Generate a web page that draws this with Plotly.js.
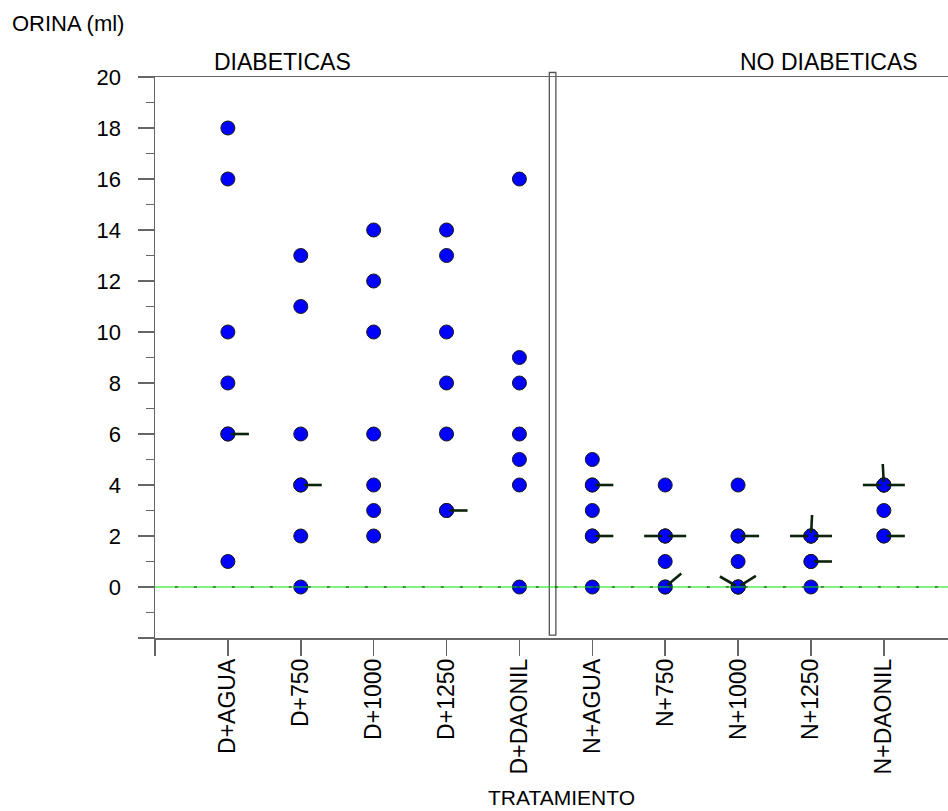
<!DOCTYPE html>
<html>
<head>
<meta charset="utf-8">
<script src="https://cdn.plot.ly/plotly-3.0.1.min.js"></script>
<style>
  html, body { margin: 0; padding: 0; background: #ffffff; }
  #chart { width: 948px; height: 811px; }
</style>
</head>
<body>
<div id="chart"></div>
<script>
// Treatment groups, in axis order
const categories = ['D+AGUA', 'D+750', 'D+1000', 'D+1250', 'D+DAONIL',
                    'N+AGUA', 'N+750', 'N+1000', 'N+1250', 'N+DAONIL'];

// Urine volume (ml) per animal, one array per group
const dAgua    = [18, 16, 10, 8, 6, 6, 1];
const d750     = [13, 11, 6, 4, 4, 2, 0];
const d1000    = [14, 12, 10, 6, 4, 3, 2];
const d1250    = [14, 13, 10, 8, 6, 3, 3];
const dDaonil  = [16, 9, 8, 6, 5, 4, 0];
const nAgua    = [5, 4, 4, 3, 2, 2, 0];
const n750     = [4, 2, 2, 2, 1, 0, 0];
const n1000    = [4, 2, 2, 1, 0, 0, 0];
const n1250    = [2, 2, 2, 2, 1, 1, 0];
const nDaonil  = [4, 4, 4, 4, 3, 2, 2];

const groups = [dAgua, d750, d1000, d1250, dDaonil, nAgua, n750, n1000, n1250, nDaonil];

// Y ticks
const yTickVals = [-2, 0, 2, 4, 6, 8, 10, 12, 14, 16, 18, 20];
const yTickText = ['', '0', '2', '4', '6', '8', '10', '12', '14', '16', '18', '20'];
const yMinorVals = [-1, 1, 3, 5, 7, 9, 11, 13, 15, 17, 19];

// Sunflower petals: one petal per repeated observation.
// Default petal directions (degrees) by number of extra observations,
// with a few groups turned so they stay clear of the baseline.
const petalDefaults = { 1: [0], 2: [180, 0], 3: [180, 0, 90] };
const petalTurns = {
  'N+750|0': [40],
  'N+1000|0': [150, 32],
  'N+1250|2': [180, 0, 87],
  'N+DAONIL|4': [180, 0, 93]
};
const PETAL_R0 = 3, PETAL_R1 = 21;

// Scatter points
const xs = [], ys = [];
groups.forEach((vals, i) => {
  vals.forEach(v => { xs.push(i + 1); ys.push(v); });
});

const shapes = [];

// Separator between diabetic and non-diabetic groups
shapes.push({
  type: 'rect', xref: 'x', yref: 'paper',
  x0: 5.41, x1: 5.5, y0: 0.005, y1: 1.008,
  line: { color: '#555555', width: 1.3 },
  fillcolor: '#ffffff', layer: 'below'
});

// Baseline at zero: green line with short dark dashes
shapes.push({
  type: 'line', xref: 'paper', yref: 'y', x0: 0, x1: 1, y0: 0, y1: 0,
  line: { color: '#00e600', width: 1.2 }, layer: 'above'
});
shapes.push({
  type: 'line', xref: 'paper', yref: 'y', x0: 0.025, x1: 1, y0: 0, y1: 0,
  line: { color: '#222222', width: 1.2, dash: '3px,16px' }, layer: 'above'
});

// Petal lines, anchored on the repeated values
groups.forEach((vals, i) => {
  const counts = {};
  vals.forEach(v => { counts[v] = (counts[v] || 0) + 1; });
  Object.keys(counts).forEach(k => {
    const extra = counts[k] - 1;
    if (extra < 1) return;
    const key = categories[i] + '|' + k;
    const angles = petalTurns[key] || petalDefaults[extra];
    angles.forEach(a => {
      const r = a * Math.PI / 180;
      shapes.push({
        type: 'line', xref: 'x', yref: 'y',
        xsizemode: 'pixel', ysizemode: 'pixel',
        xanchor: i + 1, yanchor: Number(k),
        x0: PETAL_R0 * Math.cos(r), x1: PETAL_R1 * Math.cos(r),
        y0: PETAL_R0 * Math.sin(r), y1: PETAL_R1 * Math.sin(r),
        line: { color: '#0b220b', width: 2.6 }, layer: 'above'
      });
    });
  });
});

const FONT = 'Liberation Sans, Arial, Helvetica, sans-serif';
const AXIS = '#666666';

const trace = {
  type: 'scatter', mode: 'markers',
  x: xs, y: ys,
  marker: { color: '#0000ff', size: 14, line: { color: '#1a1a1a', width: 1 } },
  hoverinfo: 'x+y', showlegend: false
};

const layout = {
  width: 948, height: 811,
  margin: { l: 155, r: 0, t: 77, b: 173, pad: 0 },
  paper_bgcolor: '#ffffff', plot_bgcolor: '#ffffff',
  font: { family: FONT, color: '#000000' },
  showlegend: false,
  xaxis: {
    range: [0, 10.88],
    tickmode: 'array',
    tickvals: [0, 1, 2, 3, 4, 5, 6, 7, 8, 9, 10],
    ticktext: [''].concat(categories),
    tickangle: -90,
    ticks: 'outside', ticklen: 16, tickwidth: 1.5, tickcolor: AXIS,
    showline: true, linecolor: AXIS, linewidth: 1.5, mirror: true,
    showgrid: false, zeroline: false,
    ticklabelstandoff: -6,
    tickfont: { family: FONT, size: 23, color: '#000000' }
  },
  yaxis: {
    range: [-2, 20],
    tickmode: 'array', tickvals: yTickVals, ticktext: yTickText,
    ticks: 'outside', ticklen: 16, tickwidth: 1.5, tickcolor: AXIS,
    minor: { tickmode: 'array', tickvals: yMinorVals, ticks: 'outside',
             ticklen: 8, tickwidth: 1.5, tickcolor: AXIS, showgrid: false },
    showline: true, linecolor: AXIS, linewidth: 1.5,
    showgrid: false, zeroline: false,
    ticklabelstandoff: 12,
    tickfont: { family: FONT, size: 22, color: '#000000' }
  },
  shapes: shapes,
  annotations: [
    { text: 'ORINA (ml)', xref: 'paper', yref: 'paper',
      x: -0.183, y: 1.096, xanchor: 'left', yanchor: 'middle',
      showarrow: false, font: { family: FONT, size: 22, color: '#000000' } },
    { text: 'DIABETICAS', xref: 'paper', yref: 'paper',
      x: 0.1614, y: 1.026, xanchor: 'center', yanchor: 'middle',
      showarrow: false, font: { family: FONT, size: 23, color: '#000000' } },
    { text: 'NO DIABETICAS', xref: 'paper', yref: 'paper',
      x: 0.85, y: 1.026, xanchor: 'center', yanchor: 'middle',
      showarrow: false, font: { family: FONT, size: 23, color: '#000000' } },
    { text: 'TRATAMIENTO', xref: 'paper', yref: 'paper',
      x: 0.512, y: -0.284, xanchor: 'center', yanchor: 'middle',
      showarrow: false, font: { family: FONT, size: 21, color: '#000000' } }
  ]
};

Plotly.newPlot('chart', [trace], layout, { displayModeBar: false, staticPlot: true });
</script>
</body>
</html>
